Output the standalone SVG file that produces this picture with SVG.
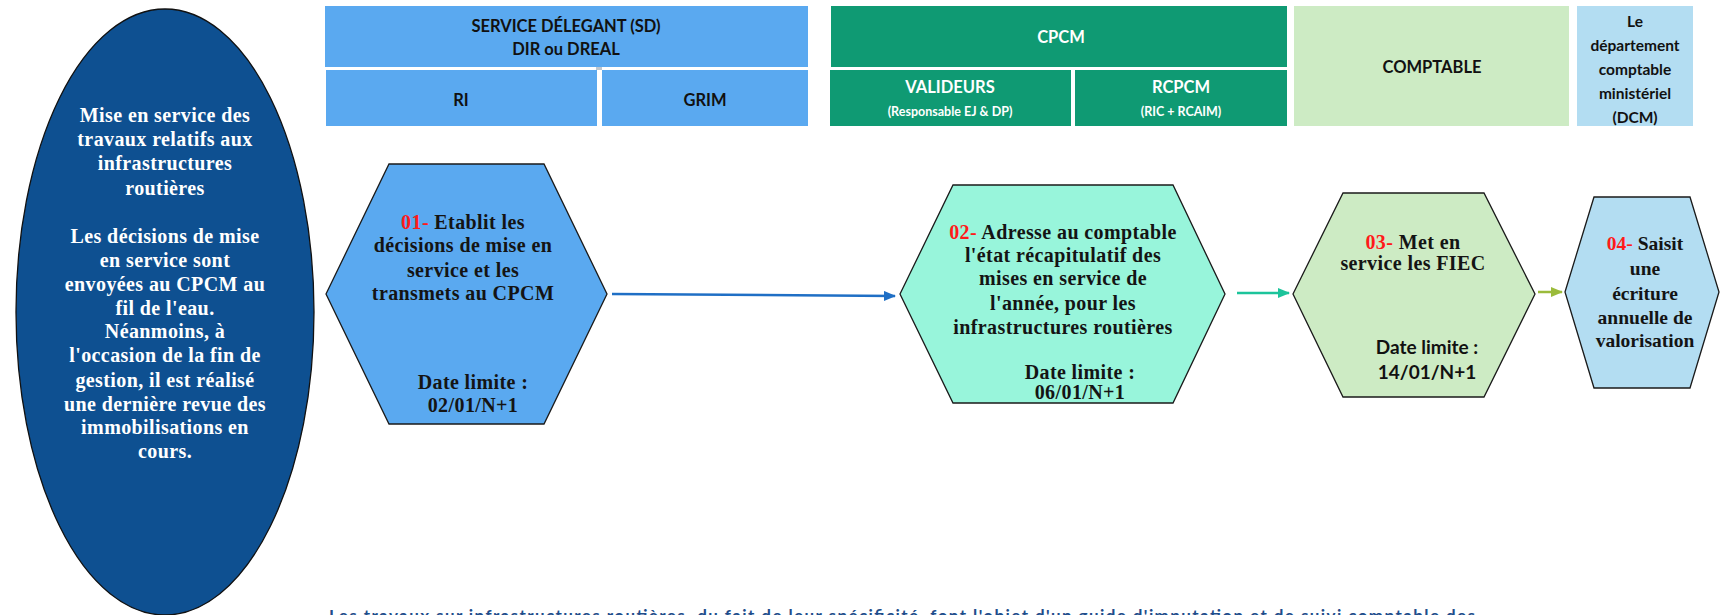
<svg xmlns="http://www.w3.org/2000/svg" width="1720" height="615" viewBox="0 0 1720 615">
  <style>
    .hdr { font-family: Lato, "Liberation Sans", sans-serif; font-weight: bold; text-anchor: middle; }
    .dark { fill: #111111; }
    .light { fill: #ffffff; }
    .serif { font-family: "Liberation Serif", "DejaVu Serif", serif; font-weight: bold; font-size: 20px; letter-spacing: 0.4px; text-anchor: middle; fill: #141414; }
    .tight { letter-spacing: 0px; font-size: 19.5px; }
    .num { fill: #ff1a1a; }
    .hex { stroke: #1a1a1a; stroke-width: 1.3; }
    .sans { font-family: Lato, "Liberation Sans", sans-serif; font-weight: bold; font-size: 19px; text-anchor: middle; fill: #111111; }
  </style>
  <defs>
    <marker id="ahBlue" markerWidth="12" markerHeight="10" refX="11" refY="5" orient="auto" markerUnits="userSpaceOnUse">
      <path d="M0,0 L12,5 L0,10 Z" fill="#1f6fc5"/>
    </marker>
    <marker id="ahTeal" markerWidth="12" markerHeight="10" refX="11" refY="5" orient="auto" markerUnits="userSpaceOnUse">
      <path d="M0,0 L12,5 L0,10 Z" fill="#1cc49b"/>
    </marker>
    <marker id="ahOlive" markerWidth="12" markerHeight="10" refX="11" refY="5" orient="auto" markerUnits="userSpaceOnUse">
      <path d="M0,0 L12,5 L0,10 Z" fill="#9bbb3b"/>
    </marker>
  </defs>

  <rect width="1720" height="615" fill="#ffffff"/>

  <!-- swimlane headers -->
  <g id="header-sd">
    <rect x="325" y="6" width="483" height="61" fill="#5aa9f0"/>
    <rect x="596" y="67" width="6" height="3" fill="#bfc7cf"/>
    <text class="hdr dark" x="566" y="32" font-size="16.5">SERVICE DÉLEGANT (SD)</text>
    <text class="hdr dark" x="566" y="55" font-size="16.5">DIR ou DREAL</text>
  </g>
  <g id="header-ri">
    <rect x="326" y="70" width="271" height="56" fill="#5aa9f0"/>
    <text class="hdr dark" x="461" y="106" font-size="16.5">RI</text>
  </g>
  <g id="header-grim">
    <rect x="602" y="70" width="206" height="56" fill="#5aa9f0"/>
    <text class="hdr dark" x="705" y="106" font-size="16.5">GRIM</text>
  </g>
  <g id="header-cpcm">
    <rect x="831" y="6" width="456" height="61" fill="#0f9a73"/>
    <text class="hdr light" x="1061" y="43" font-size="16.5">CPCM</text>
  </g>
  <g id="header-valideurs">
    <rect x="830" y="70" width="241" height="56" fill="#0f9a73"/>
    <text class="hdr light" x="950" y="93" font-size="16.5">VALIDEURS</text>
    <text class="hdr light" x="950" y="116" font-size="12.5">(Responsable EJ &amp; DP)</text>
  </g>
  <g id="header-rcpcm">
    <rect x="1075" y="70" width="212" height="56" fill="#0f9a73"/>
    <text class="hdr light" x="1181" y="93" font-size="16.5">RCPCM</text>
    <text class="hdr light" x="1181" y="116" font-size="12.5">(RIC + RCAIM)</text>
  </g>
  <g id="header-comptable">
    <rect x="1294" y="6" width="275" height="120" fill="#cdebc4"/>
    <text class="hdr dark" x="1432" y="73" font-size="16.5">COMPTABLE</text>
  </g>
  <g id="header-dcm">
    <rect x="1577" y="6" width="116" height="120" fill="#b3ddf2"/>
    <text class="hdr dark" x="1635" y="27" font-size="15.5">Le</text>
    <text class="hdr dark" x="1635" y="51" font-size="15.5">département</text>
    <text class="hdr dark" x="1635" y="75" font-size="15.5">comptable</text>
    <text class="hdr dark" x="1635" y="99" font-size="15.5">ministériel</text>
    <text class="hdr dark" x="1635" y="123" font-size="15.5">(DCM)</text>
  </g>

  <!-- context ellipse -->
  <g id="context">
    <ellipse cx="165" cy="312" rx="149" ry="303" fill="#0e5091" stroke="#111111" stroke-width="1.3"/>
    <g class="serif" style="fill:#ffffff">
      <text x="165" y="122">Mise en service des</text>
      <text x="165" y="146">travaux relatifs aux</text>
      <text x="165" y="170">infrastructures</text>
      <text x="165" y="195">routières</text>
      <text x="165" y="243">Les décisions de mise</text>
      <text x="165" y="267">en service sont</text>
      <text x="165" y="291">envoyées au CPCM au</text>
      <text x="165" y="315">fil de l'eau.</text>
      <text x="165" y="338">Néanmoins, à</text>
      <text x="165" y="362">l'occasion de la fin de</text>
      <text x="165" y="387">gestion, il est réalisé</text>
      <text x="165" y="411">une dernière revue des</text>
      <text x="165" y="434">immobilisations en</text>
      <text x="165" y="458">cours.</text>
    </g>
  </g>

  <!-- step 01 -->
  <g id="step-01">
    <polygon class="hex" points="326,294 389,164 544,164 607,294 544,424 389,424" fill="#5aa9f0"/>
    <text class="serif" x="463" y="229"><tspan class="num">01-</tspan> Etablit les</text>
    <text class="serif" x="463" y="252">décisions de mise  en</text>
    <text class="serif" x="463" y="277">service et les</text>
    <text class="serif" x="463" y="300">transmets au CPCM</text>
    <text class="serif" x="473" y="389">Date limite :</text>
    <text class="serif" x="473" y="412">02/01/N+1</text>
  </g>

  <!-- step 02 -->
  <g id="step-02">
    <polygon class="hex" points="900,294 953,185 1173,185 1225,294 1173,403 953,403" fill="#98f5db"/>
    <text class="serif" x="1063" y="239"><tspan class="num">02-</tspan> Adresse au comptable</text>
    <text class="serif" x="1063" y="262">l'état récapitulatif des</text>
    <text class="serif" x="1063" y="285">mises en service de</text>
    <text class="serif" x="1063" y="310">l'année, pour les</text>
    <text class="serif" x="1063" y="334">infrastructures routières</text>
    <text class="serif" x="1080" y="379">Date limite :</text>
    <text class="serif" x="1080" y="399">06/01/N+1</text>
  </g>

  <!-- step 03 -->
  <g id="step-03">
    <polygon class="hex" points="1293,294 1343,193 1484,193 1535,294 1484,397 1343,397" fill="#cdebc4"/>
    <text class="serif" x="1413" y="249"><tspan class="num">03-</tspan> Met en</text>
    <text class="serif" x="1413" y="270">service les FIEC</text>
    <text class="sans" x="1427" y="354">Date limite :</text>
    <text class="sans" x="1427" y="379">14/01/N+1</text>
  </g>

  <!-- step 04 -->
  <g id="step-04">
    <polygon class="hex" points="1565,292 1594,197 1690,197 1719,292 1690,388 1594,388" fill="#b3ddf2"/>
    <text class="serif tight" x="1645" y="250"><tspan class="num">04-</tspan> Saisit</text>
    <text class="serif tight" x="1645" y="275">une</text>
    <text class="serif tight" x="1645" y="300">écriture</text>
    <text class="serif tight" x="1645" y="324">annuelle de</text>
    <text class="serif tight" x="1645" y="347">valorisation</text>
  </g>

  <!-- connectors -->
  <g id="connectors" fill="none">
    <line x1="612" y1="294" x2="895" y2="296" stroke="#1f6fc5" stroke-width="2.5" marker-end="url(#ahBlue)"/>
    <line x1="1237" y1="293" x2="1289" y2="293" stroke="#1cc49b" stroke-width="2.5" marker-end="url(#ahTeal)"/>
    <line x1="1538" y1="292" x2="1562" y2="292" stroke="#9bbb3b" stroke-width="2.5" marker-end="url(#ahOlive)"/>
  </g>

  <!-- footnote, running past the lower edge -->
  <text x="329" y="622" font-family="Lato, 'Liberation Sans', sans-serif" font-weight="bold" font-size="17" fill="#1f4e8c" textLength="1146" lengthAdjust="spacing">Les travaux sur infrastructures routières, du fait de leur spécificité, font l'objet d'un guide d'imputation et de suivi comptable des</text>
</svg>
